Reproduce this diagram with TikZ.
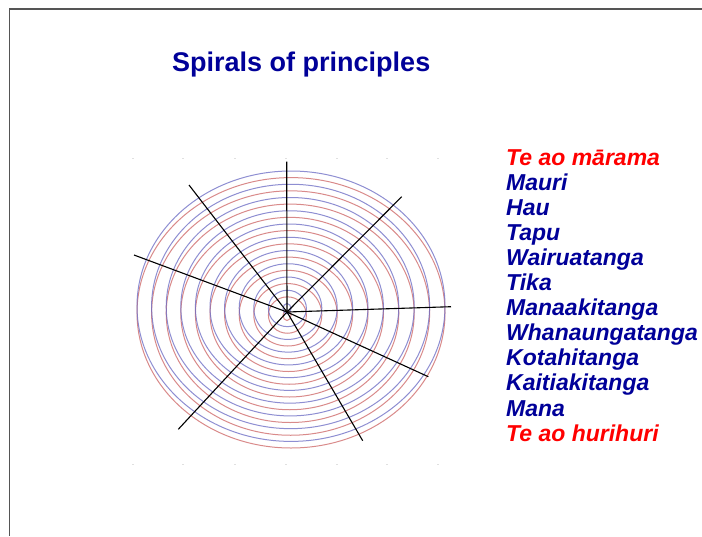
\documentclass[tikz,border=0pt]{standalone}
\usepackage{fontspec}
\setmainfont{Liberation Sans}
\definecolor{navy}{RGB}{0,0,153}
\definecolor{redtxt}{RGB}{255,0,0}
\definecolor{ringred}{RGB}{205,100,100}
\definecolor{ringblue}{RGB}{105,105,195}
\definecolor{framegray}{RGB}{85,85,85}
\begin{document}
\begin{tikzpicture}[x=1pt,y=-1pt,
  frameline/.style={draw=framegray,line width=1.5pt},
  ring/.style={line width=1pt,opacity=0.75},
  ray/.style={draw=black,line width=1.1pt},
  tick/.style={draw=black!12,line width=0.8pt},
  title/.style={anchor=base west,inner sep=0pt,text=navy,font=\fontsize{27}{31}\selectfont\bfseries},
  item/.style={anchor=base west,inner sep=0pt,text=navy,font=\fontsize{23}{27}\selectfont\bfseries\itshape},
  itemred/.style={item,text=redtxt}]
\useasboundingbox (0,0) rectangle (702,536);
\fill[white] (0,0) rectangle (702,536);
% frame (top and left edges)
\coordinate (ftr) at (702,9);
\coordinate (ftl) at (9.5,9);
\coordinate (fbl) at (9.5,536);
\draw[frameline] (ftr) -- (ftl) -- (fbl);
% title
\node[title] (t) at (172,71) {Spirals of principles};
% faint ticks
\foreach \x in {133,183,235,286,337,387,438}{
  \draw[tick] (\x-1,158) -- (\x+1,158);
  \draw[tick] (\x-1,464) -- (\x+1,464);
}
% rings
\foreach \k in {0,...,10}{
  \pgfmathsetmacro{\cx}{287+0.4*\k}
  \pgfmathsetmacro{\cy}{312-0.25*\k}
  \pgfmathsetmacro{\ra}{4+15*\k}
  \pgfmathsetmacro{\rb}{5.2+13*\k}
  \draw[ring,ringred] (\cx,\cy+3.3) ellipse [x radius=\ra, y radius=\rb];
  \draw[ring,ringblue] (\cx,\cy-3.3) ellipse [x radius=\ra, y radius=\rb];
}
% rays
\coordinate (c) at (287,312);
\coordinate (e1) at (286.7,161.7);
\coordinate (e2) at (401.7,196.7);
\coordinate (e3) at (451,306.7);
\coordinate (e4) at (428.3,376.7);
\coordinate (e5) at (362.7,440.7);
\coordinate (e6) at (178.3,429.3);
\coordinate (e7) at (134,255);
\coordinate (e8) at (189,185);
\foreach \e in {e1,e2,e3,e4,e5,e6,e7,e8}{\draw[ray] (c) -- (\e);}
% list
\node[itemred] (l0) at (506,165) {Te ao mārama};
\node[item] (l1) at (506,190.1) {Mauri};
\node[item] (l2) at (506,215.2) {Hau};
\node[item] (l3) at (506,240.3) {Tapu};
\node[item] (l4) at (506,265.4) {Wairuatanga};
\node[item] (l5) at (506,290.5) {Tika};
\node[item] (l6) at (506,315.6) {Manaakitanga};
\node[item] (l7) at (506,340.7) {Whanaungatanga};
\node[item] (l8) at (506,365.8) {Kotahitanga};
\node[item] (l9) at (506,390.9) {Kaitiakitanga};
\node[item] (l10) at (506,416) {Mana};
\node[itemred] (l11) at (506,441.1) {Te ao hurihuri};
\end{tikzpicture}
\end{document}
